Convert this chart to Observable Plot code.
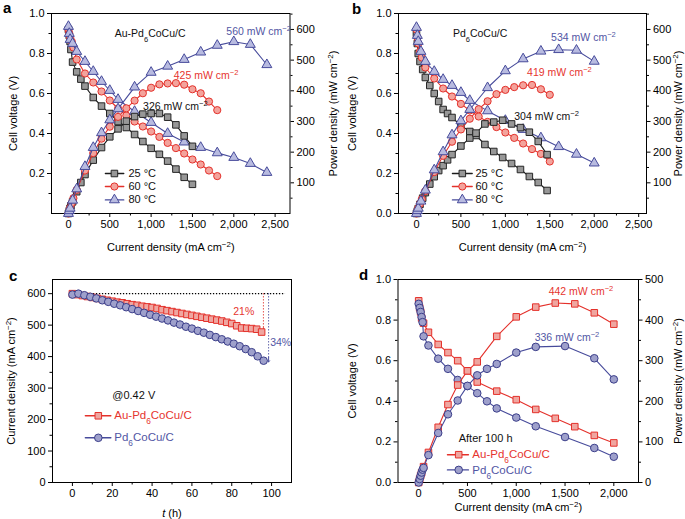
<!DOCTYPE html>
<html>
<head>
<meta charset="utf-8">
<script src="https://cdn.jsdelivr.net/npm/d3@7"></script>
<script src="https://cdn.jsdelivr.net/npm/@observablehq/plot@0.6"></script>
<style>
html,body{margin:0;padding:0;background:#fff;}
#fig{position:relative;width:685px;height:519px;overflow:hidden;font-family:"Liberation Sans",Arial,Helvetica,sans-serif;}
.plab{position:absolute;font-weight:bold;font-size:15px;line-height:1;color:#000;}
</style>
</head>
<body>
<div id="fig">
<div class="plab" style="left:3px;top:0px">a</div>
<div class="plab" style="left:352px;top:1px">b</div>
<div class="plab" style="left:9px;top:268px">c</div>
<div class="plab" style="left:359px;top:267px">d</div>
</div>
<script>
// ---------- Panel a : Au-Pd6CoCu/C ----------
const aI25 = [0,10,20,30,50,100,150,200,300,400,500,600,700,800,900,1000,1100,1200,1300,1400,1500];
const aV25 = [0.92,0.89,0.86,0.82,0.757,0.708,0.672,0.637,0.58,0.537,0.50,0.46,0.43,0.395,0.36,0.326,0.296,0.262,0.222,0.181,0.146];
const aP25 = [0,9,17,25,38,71,101,127,174,215,250,276,301,316,324,326,326,314,289,253,219];
const aI60 = [0,10,20,40,60,100,200,300,400,500,600,700,800,900,1000,1100,1200,1300,1400,1500,1600,1700,1800];
const aV60 = [0.92,0.90,0.88,0.86,0.83,0.77,0.70,0.655,0.61,0.565,0.525,0.49,0.46,0.435,0.41,0.383,0.353,0.327,0.30,0.27,0.245,0.215,0.187];
const aP60 = [0,9,18,34,50,77,140,197,244,283,315,343,368,392,410,421,424,425,420,405,392,365,337];
const aI80 = [0,10,20,50,100,200,300,400,500,600,800,1000,1200,1400,1600,1800,2000,2200,2400];
const aV80 = [0.935,0.90,0.87,0.85,0.81,0.76,0.71,0.66,0.615,0.57,0.51,0.455,0.40,0.357,0.33,0.303,0.28,0.25,0.205];
const aP80 = [0,9,17,43,80,153,215,263,305,341,412,460,480,502,526,548,560,551,485];

// ---------- Panel b : Pd6CoCu/C ----------
const bI25 = [0,10,20,40,70,100,150,200,250,300,350,400,500,600,670,770,870,970,1070,1170,1270,1370,1470];
const bV25 = [0.90,0.85,0.80,0.76,0.72,0.68,0.64,0.60,0.56,0.52,0.50,0.48,0.44,0.41,0.39,0.345,0.31,0.28,0.25,0.22,0.185,0.155,0.115];
const bP25 = [0,8,16,30,50,68,96,120,140,156,175,192,220,246,262,292,298,304,292,280,265,235,192];
const bI60 = [0,10,20,40,60,100,200,300,400,500,600,700,800,900,1000,1100,1200,1300,1400,1500];
const bV60 = [0.92,0.88,0.85,0.81,0.78,0.73,0.675,0.625,0.585,0.548,0.515,0.485,0.458,0.432,0.405,0.378,0.35,0.322,0.298,0.26];
const bP60 = [0,9,17,32,47,73,135,188,234,274,309,340,366,389,403,412,418,419,405,387];
const bI80 = [0,10,20,50,100,200,300,400,500,600,800,1000,1200,1400,1600,1800,2000];
const bV80 = [0.93,0.89,0.86,0.81,0.76,0.71,0.67,0.64,0.605,0.565,0.513,0.465,0.42,0.378,0.334,0.296,0.252];
const bP80 = [0,9,17,40,76,142,201,256,302,339,410,465,504,529,534,532,496];

// ---------- Panel c : stability at 0.42 V ----------
const cTAu = [0,2.5,5,7.5,10,12.5,15,17.5,20,22.5,25,27.5,30,32.5,35,37.5,40,42.5,45,47.5,50,52.5,55,57.5,60,62.5,65,67.5,70,72.5,75,77.5,80,82.5,85,87.5,90,92.5,95];
const cJAu = [600,597,594,591,588,585,582,579,576,573,571,568,565,563,560,558,556,553,549,546,543,540,537,534,531,528,525,522,519,516,513,509,505,498,491,490,489,487,478];
const cTPd = [0,3,6,9,12,15,18,21,24,27,30,33,36,39,42,45,48,51,54,57,60,63,66,69,72,75,78,81,84,87,90,93,96];
const cJPd = [597,600,595,590,585,579,574,568,563,557,551,545,539,533,527,521,515,508,502,495,489,482,476,469,462,455,448,441,433,424,414,401,387];

// ---------- Panel d : after 100 h ----------
const dIAu = [0,10,20,30,50,100,200,300,400,500,600,800,1000,1200,1400,1600,1800,2000];
const dVAu = [0.895,0.86,0.84,0.81,0.785,0.74,0.68,0.64,0.60,0.55,0.495,0.45,0.408,0.36,0.316,0.275,0.232,0.195];
const dPAu = [0,8.6,16.8,24,39,74,136,192,240,275,297,360,408,432,442,440,418,390];
const dIPd = [0,10,20,30,40,50,100,200,300,400,500,600,700,800,1000,1200,1500,1800,2000];
const dVPd = [0.88,0.86,0.84,0.815,0.79,0.72,0.675,0.61,0.56,0.505,0.475,0.44,0.40,0.365,0.32,0.277,0.224,0.17,0.127];
const dPPd = [0,8.6,16.8,24.5,31.6,36,67.5,122,168,202,238,264,280,292,320,334,336,306,254];

// ---------- tick values ----------
const xTicksAB = [0,500,1000,1500,2000,2500];
const xMinorAB = [250,750,1250,1750,2250];
const xTicksD = [0,500,1000,1500,2000];
const xMinorD = [250,750,1250,1750];
const vTicksA = [0.2,0.4,0.6,0.8,1.0];
const vTicks = [0,0.2,0.4,0.6,0.8,1.0];
const vMinor = [0.1,0.3,0.5,0.7,0.9];
const pTicksAB = [100,200,300,400,500,600];
const pMinorAB = [50,150,250,350,450,550,650];
const pTicksD = [0,100,200,300,400,500];
const pMinorD = [50,150,250,350,450];
const tTicks = [0,20,40,60,80,100];
const tMinor = [10,30,50,70,90];
const jTicks = [0,100,200,300,400,500,600];
const jMinor = [50,150,250,350,450,550];

// ---------- styling ----------
const FONT = '"Liberation Sans", Arial, Helvetica, sans-serif';
const RED = "#e4312b", BLUE = "#474b9b";
const TRED = "#e6352f", TBLUE = "#5256a4";
const fmtC = d3.format(",");
const fmtV = d3.format(".1f");
const S = {
  sq:  {symbol:"square",   r:3.7, fill:"#979797", stroke:"#262626", line:"#1c1c1c"},
  ci:  {symbol:"circle",   r:3.6, fill:"#f3a39c", stroke:RED,       line:RED},
  tr:  {symbol:"triangle", r:3.7, fill:"#b8bbe0", stroke:BLUE,      line:BLUE},
  sqR: {symbol:"square",   r:3.7, fill:"#efa6a0", stroke:RED,       line:RED},
  ciB: {symbol:"circle",   r:3.8, fill:"#9ea0cb", stroke:"#3b3e8a", line:BLUE}
};
const fig = document.getElementById("fig");

const rows = (X, Y) => X.map((x, i) => ({x, y: Y[i]}));
function series(X, Y, s) {
  const d = rows(X, Y);
  return [
    Plot.line(d, {x:"x", y:"y", stroke:s.line, strokeWidth:1.1}),
    Plot.dot(d, {x:"x", y:"y", symbol:s.symbol, r:s.r, fill:s.fill, stroke:s.stroke, strokeWidth:1})
  ];
}
function note(x, y, text, fill, size = 10.5, anchor = "start") {
  return Plot.text([{x, y, text}], {x:"x", y:"y", text:"text", fill, fontSize:size, textAnchor:anchor});
}
function legend(x1, x2, xm, xt, y, s, label, fill, size = 11) {
  return [
    Plot.line([{x:x1, y}, {x:x2, y}], {x:"x", y:"y", stroke:s.line, strokeWidth:1.4}),
    Plot.dot([{x:xm, y}], {x:"x", y:"y", symbol:s.symbol, r:s.r, fill:s.fill, stroke:s.stroke, strokeWidth:1}),
    note(xt, y, label, fill, size)
  ];
}
function base(g) {
  return {width:g.w, height:g.h, marginLeft:g.ml, marginRight:g.mr, marginTop:g.mt, marginBottom:g.mb,
    style:{fontFamily:FONT, fontSize:"11px", background:"transparent", color:"#000", overflow:"visible"}};
}
function axX(major, minor, fmt, label, off) {
  return [
    Plot.axisX(major, {tickSize:4, tickPadding:3, tickFormat:fmt, label, labelAnchor:"center", labelArrow:"none", labelOffset:off, fontSize:11}),
    Plot.axisX(minor, {tickSize:2.5, tickFormat:() => "", label:null})
  ];
}
function axYL(major, minor, fmt, label, off) {
  return [
    Plot.axisY(major, {tickSize:4, tickPadding:3, tickFormat:fmt, label, labelAnchor:"center", labelArrow:"none", labelOffset:off, fontSize:11}),
    Plot.axisY(minor, {tickSize:2.5, tickFormat:() => "", label:null})
  ];
}
function axYR(major, minor, label, off) {
  return [
    Plot.axisY(major, {anchor:"right", tickSize:3.5, tickPadding:3, tickFormat:d => String(d), label, labelAnchor:"center", labelArrow:"none", labelOffset:off, fontSize:11}),
    Plot.axisY(minor, {anchor:"right", tickSize:2, tickFormat:() => "", label:null})
  ];
}
function richify(svg) {
  const NS = "http://www.w3.org/2000/svg";
  svg.querySelectorAll("text").forEach(t => {
    let s = t.textContent;
    const stripped = s.replace(/\s*[→↑←↓]\s*/g, "");
    if (stripped !== s) { s = stripped; t.textContent = s; }
    if (s === "t (h)") {
      t.textContent = "";
      const a = document.createElementNS(NS, "tspan"); a.textContent = "t"; a.setAttribute("font-style", "italic");
      const b = document.createElementNS(NS, "tspan"); b.textContent = " (h)";
      t.appendChild(a); t.appendChild(b);
      return;
    }
    if (!/[⁻₆]/.test(s)) return;
    const parts = s.split(/(⁻²|₆)/);
    t.textContent = "";
    for (const p of parts) {
      if (!p) continue;
      const ts = document.createElementNS(NS, "tspan");
      if (p === "⁻²") { ts.textContent = "−2"; ts.setAttribute("baseline-shift", "super"); ts.setAttribute("font-size", "0.72em"); }
      else if (p === "₆") { ts.textContent = "6"; ts.setAttribute("baseline-shift", "sub"); ts.setAttribute("font-size", "0.72em"); }
      else ts.textContent = p;
      t.appendChild(ts);
    }
  });
}
function place(svg, left, top) {
  const w = document.createElement("div");
  w.style.cssText = `position:absolute;left:${left}px;top:${top}px;`;
  w.appendChild(svg);
  fig.appendChild(w);
  richify(svg);
}
const XL = "Current density (mA cm⁻²)";
const VL = "Cell voltage (V)";
const PL = "Power density (mW cm⁻²)";

// ================= Panel a =================
{
  const g = {w:345, h:258, ml:51, mr:55.5, mt:13, mb:45};
  const xd = [-205, 2680];
  place(Plot.plot({...base(g), x:{domain:xd}, y:{domain:[0,1]}, marks:[
    ...axX(xTicksAB, xMinorAB, fmtC, XL, 37),
    ...axYL(vTicksA, vMinor, fmtV, VL, 42),
    ...series(aI25, aV25, S.sq),
    ...series(aI60, aV60, S.ci),
    ...series(aI80, aV80, S.tr),
    note(560, 0.9, "Au-Pd₆CoCu/C", "#111", 10.5),
    ...legend(447, 669, 556, 725, 0.2, S.sq, "25 °C", "#111"),
    ...legend(447, 669, 556, 725, 0.135, S.ci, "60 °C", "#111"),
    ...legend(447, 669, 556, 725, 0.068, S.tr, "80 °C", "#111"),
    Plot.frame({stroke:"#000", strokeWidth:1})
  ]}), 0, 0);
  place(Plot.plot({...base(g), x:{domain:xd, axis:null}, y:{domain:[0,652]}, marks:[
    ...axYR(pTicksAB, pMinorAB, PL, 47),
    ...series(aI25, aP25, S.sq),
    ...series(aI60, aP60, S.ci),
    ...series(aI80, aP80, S.tr),
    note(1910, 592, "560 mW cm⁻²", TBLUE),
    note(1274, 448, "425 mW cm⁻²", TRED),
    note(903, 350, "326 mW cm⁻²", "#111")
  ]}), 0, 0);
}

// ================= Panel b =================
{
  const g = {w:340, h:258, ml:53, mr:39, mt:13, mb:45};
  const xd = [-202, 2588];
  place(Plot.plot({...base(g), x:{domain:xd}, y:{domain:[0,1]}, marks:[
    ...axX(xTicksAB, xMinorAB, fmtC, XL, 37),
    ...axYL(vTicks, vMinor, fmtV, VL, 50),
    ...series(bI25, bV25, S.sq),
    ...series(bI60, bV60, S.ci),
    ...series(bI80, bV80, S.tr),
    note(410, 0.9, "Pd₆CoCu/C", "#111", 10.5),
    ...legend(405, 627, 516, 664, 0.2, S.sq, "25 °C", "#111"),
    ...legend(405, 627, 516, 664, 0.135, S.ci, "60 °C", "#111"),
    ...legend(405, 627, 516, 664, 0.068, S.tr, "80 °C", "#111"),
    Plot.frame({stroke:"#000", strokeWidth:1})
  ]}), 345, 0);
  place(Plot.plot({...base(g), x:{domain:xd, axis:null}, y:{domain:[0,652]}, marks:[
    ...axYR(pTicksAB, pMinorAB, PL, 35.5),
    ...series(bI25, bP25, S.sq),
    ...series(bI60, bP60, S.ci),
    ...series(bI80, bP80, S.tr),
    note(1515, 572, "534 mW cm⁻²", TBLUE),
    note(1245, 458, "419 mW cm⁻²", TRED),
    note(1100, 315, "304 mW cm⁻²", "#111")
  ]}), 345, 0);
}

// ================= Panel c =================
{
  const g = {w:345, h:264, ml:52, mr:54, mt:24, mb:37};
  const red = "#e03a36", blue = "#4d51a0";
  place(Plot.plot({...base(g), x:{domain:[-10, 110]}, y:{domain:[0, 645]}, marks:[
    ...axX(tTicks, tMinor, fmtC, "t (h)", 34),
    ...axYL(jTicks, jMinor, d => String(d), "Current density (mA cm⁻²)", 45),
    Plot.ruleY([{y:600, x1:0, x2:107}], {y:"y", x1:"x1", x2:"x2", stroke:"#000", strokeDasharray:"1.3,1.7", strokeWidth:1.1}),
    Plot.ruleX([{x:95.9, y1:600, y2:484}], {x:"x", y1:"y1", y2:"y2", stroke:red, strokeDasharray:"1.3,1.7", strokeWidth:1}),
    Plot.arrow([{x:95.9, y1:492, y2:479}], {x1:"x", x2:"x", y1:"y1", y2:"y2", stroke:red, headLength:5, headAngle:80, strokeWidth:1}),
    Plot.ruleX([{x:98.5, y1:600, y2:390}], {x:"x", y1:"y1", y2:"y2", stroke:blue, strokeDasharray:"1.3,1.7", strokeWidth:1}),
    Plot.arrow([{x:98.5, y1:398, y2:383}], {x1:"x", x2:"x", y1:"y1", y2:"y2", stroke:blue, headLength:5, headAngle:80, strokeWidth:1}),
    ...series(cTAu, cJAu, S.sqR),
    ...series(cTPd, cJPd, S.ciB),
    note(86, 544, "21%", TRED, 10.5, "middle"),
    note(99.3, 443, "34%", TBLUE, 10.5, "start"),
    note(20, 278, "@0.42 V", "#111", 11),
    ...legend(6.5, 19.3, 13, 21, 212, S.sqR, "Au-Pd₆CoCu/C", TRED, 11.5),
    ...legend(6.5, 19.3, 13, 21, 142, S.ciB, "Pd₆CoCu/C", TBLUE, 11.5),
    Plot.frame({stroke:"#000", strokeWidth:1})
  ]}), 0, 255);
}

// ================= Panel d =================
{
  const g = {w:340, h:264, ml:52.5, mr:47, mt:24, mb:37};
  const xd = [-212, 2253];
  place(Plot.plot({...base(g), x:{domain:xd}, y:{domain:[0,1]}, marks:[
    ...axX(xTicksD, xMinorD, fmtC, XL, 28),
    ...axYL(vTicks, vMinor, fmtV, VL, 50),
    ...series(dIAu, dVAu, S.sqR),
    ...series(dIPd, dVPd, S.ciB),
    note(410, 0.218, "After 100 h", "#111", 11),
    ...legend(295, 510, 410, 550, 0.137, S.sqR, "Au-Pd₆CoCu/C", TRED, 11.5),
    ...legend(295, 510, 410, 550, 0.062, S.ciB, "Pd₆CoCu/C", TBLUE, 11.5),
    Plot.frame({stroke:"#000", strokeWidth:1})
  ]}), 345, 255);
  place(Plot.plot({...base(g), x:{domain:xd, axis:null}, y:{domain:[0, 500]}, marks:[
    ...axYR(pTicksD, pMinorD, PL, 43),
    ...series(dIAu, dPAu, S.sqR),
    ...series(dIPd, dPPd, S.ciB),
    note(1332, 471, "442 mW cm⁻²", TRED),
    note(1189, 357, "336 mW cm⁻²", TBLUE)
  ]}), 345, 255);
}
</script>
</body>
</html>
